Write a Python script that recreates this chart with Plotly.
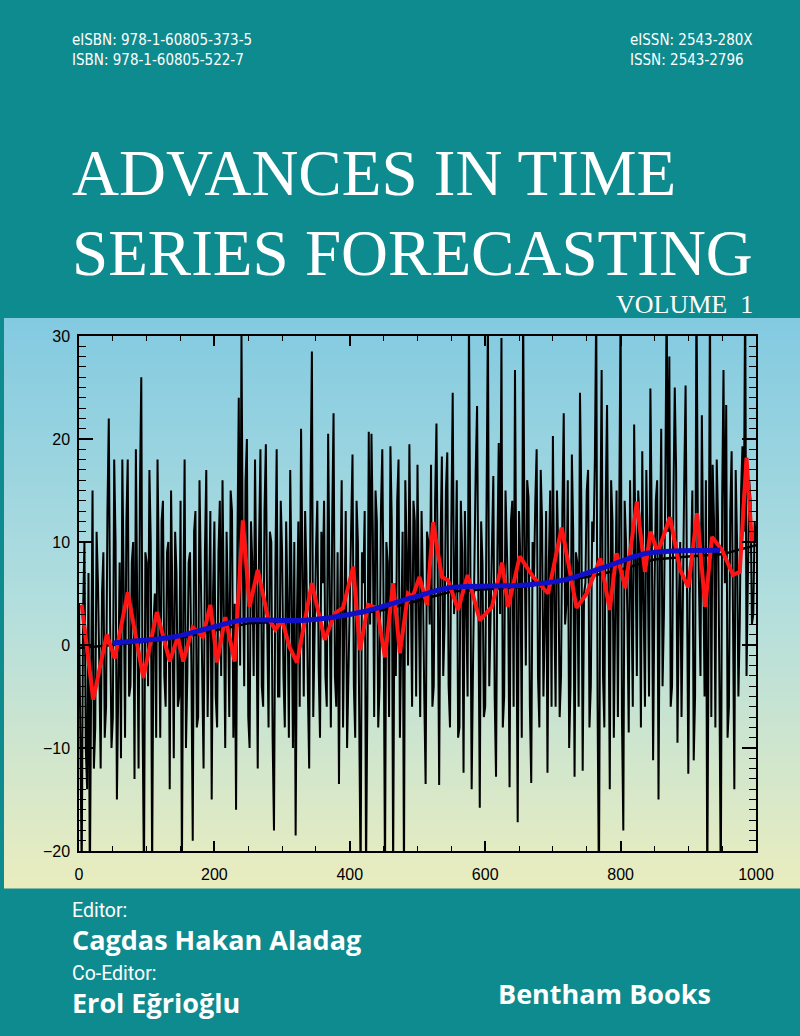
"""Book cover style time series chart: noisy series, moving average and trend."""

import plotly.graph_objects as go

# ---- data (read off the cover) ----
# even samples: x = 0, 4, 8, ..., 1000
even_x = list(range(0, 1001, 4))
even_y = [
    # 0 - 96
    4, -22, 10, -14, -24, 15, -8, 6, -12, 9, -6, 22, -10, 18, -15, 8, 18, -9, 18, -4, 10, 19, -12, 26, -23,
    # 100 - 196
    8, 17, -22, 5, 18, -9, 14, -6, 10, 15, -11, 7, -5, -22, 18, -3, 9, -19, 13, -7, 6, -12, 17, 2, -15,
    # 200 - 296
    12, -8, 14, 16, -10, 4, 15, -9, -16, 24, 30, -4, 20, -10, 8, 18, -12, 19, -6, 19.5, -8, 10, -18, 19, -5,
    # 300 - 396
    9, -8, 4, 17, -10, -18.5, 12, 21, -5, 7, -12, 28.5, 2, 14, -9, 6, -3, 20.5, -8, 22.5, -6, -13.5, 16, 3, -10,
    # 400 - 496
    5, 18.5, -9, 10, -23, 6, -22, 20.7, 20.5, -7, 12, -4, 19, -23, 8, 19.3, -22, -3, 18, 4, -23, 9, 19.5, -6, 12,
    # 500 - 596
    17.5, -7, 6, -13.5, 10, 17.5, -4, 21.5, -13.6, 18.3, 2, 18.7, -8, 24.5, 6, -9, 14, -12.4, 3, 32, -14, 10, 23.2, -15.8, 8,
    # 600 - 696
    -6, 32, 4, 16.4, -12.8, 19.6, 29.8, -5, 10, -13.8, 14, 26.7, -17.2, 8, 33, -2, 14.3, -13.4, 6, 19, -8, 12, 2, -12.4, 15,
    # 700 - 796
    20.3, -6, 9, -3, 22.5, 4, -10, 18.5, -12.8, 8, 24.5, -12.2, 6, 17, -4, 10, 33, -24, 26.7, -8, 23.3, -14, 12, 4, -7,
    # 800 - 896
    33, -18, 10, -8.5, 6, 21.4, -3, 12, 18.8, -6, 9, 24.9, -11.2, 14, -15, 21, 3, 34, 28, -4, 25, -9.5, 10, 2, 25.2,
    # 900 - 1000
    -12.5, 8, -11.2, 35, 4, 22.3, -5, -24, 34, 17.5, -8, 12, -24, 26.7, 23.3, -6, 18.8, -14, 10, 2, 19.3, 35, 8, 14, 3, 10,
]

# odd samples: x = 2, 6, 10, ..., 998
odd_x = list(range(2, 1000, 4))
odd_y = [
    -6, 3, -10, 7, -3, -12, 11, -2, 5, -9, 13, 2, -7, 10, -4, -11, 6, 12, -5, 8, -13, 4, 15, -8, 9,
    -4, 10, 2, -9, 7, 12, -3, 9, -14, 4, 11, -6, 14, 3, -10, 8, -2, 11, -8, 16, -4, 9, -7, 13, 5,
    -5, 9, -3, 2, 11, -7, 13, 4, 10, -2, 8, 16, -7, 12, -3, 5, 10, -4, 13, 2, 11, -9, 7, -5, 14,
    -3, 12, -9, 6, 10, 3, -6, 8, 13, -4, 15, -7, 9, -2, 11, 14, -6, 7, 12, -3, 9, 5, -8, 13, -2,
    12, -4, 14, -8, 9, 13, -5, 2, 11, 15, -8, 13, 3, 10, -7, 12, 6, 14, -9, 11, 16, -2, 7, 14, -5,
    4, 13, -5, 11, 2, -6, 14, 6, 10, -3, 15, -4, 12, 3, 16, -8, 9, 13, -5, 11, -2, 17, 1, 12, -7,
    14, -4, 12, -5, 9, 3, -8, 15, 4, 12, -6, 5, 13, -9, 11, 16, -6, 10, 14, -3, 17, -5, 13, 8, -6,
    4, 15, -7, 13, 2, 16, -4, 11, 9, -6, 14, 5, 15, -8, 12, 18, -6, 10, -3, 14, 6, 16, -9, 15, 11,
    -7, 14, 3, 16, -6, 9, 15, -8, 4, 17, -5, 12, 5, 16, 8, -4, 15, 11, -6, 14, 17, 4, -7, 16, 10,
    5, 15, -5, 13, -3, 9, 16, 2, -7, 12, 18, -4, 14, 6, -9, 13, 3, 17, -5, 15, 11, -3, 16, 2, 12,
]

red_x = [4, 21, 41, 53, 72, 95, 115, 134, 146, 154,
         168, 183, 194, 204, 216, 230, 242, 252, 264, 279,
         290, 300, 311, 322, 344, 363, 378, 390, 405, 415,
         427, 440, 452, 464, 474, 486, 493, 503, 514, 523,
         536, 545, 560, 574, 592, 610, 625, 634, 651, 671,
         693, 713, 735, 750, 770, 784, 794, 807, 824, 836,
         844, 855, 873, 888, 900, 913, 925, 935, 950, 966,
         976, 986, 994]
red_y = [3.9, -5.3, 1.0, -1.3, 5.1, -3.2, 3.2, -1.6, 0.8, -1.6,
         1.7, 0.8, 3.9, -1.7, 2.7, -1.6, 12.1, 3.7, 7.3, 2.7,
         1.5, 2.4, -0.2, -1.7, 6.0, 0.5, 3.1, 3.6, 7.6, -0.5,
         3.9, 3.6, -1.2, 6.0, -0.8, 5.0, 4.7, 6.6, 3.9, 11.9,
         6.6, 6.3, 3.4, 6.8, 2.4, 3.7, 8.0, 3.7, 8.6, 6.6,
         5.0, 11.4, 3.6, 5.0, 8.4, 3.4, 8.9, 5.5, 13.9, 7.1,
         11.0, 9.0, 12.4, 7.3, 5.6, 12.8, 3.7, 10.5, 9.2, 6.8,
         7.1, 18.2, 9.9]

blue_x = [50, 142, 190, 240, 334, 418, 492, 551, 655, 715, 774, 839, 947]
blue_y = [0.2, 0.8, 1.6, 2.4, 2.4, 3.2, 4.6, 5.6, 5.8, 6.3, 7.5, 8.9, 9.2]

trend_x = [0, 50, 150, 250, 350, 450, 550, 650, 750, 800, 850, 900, 950, 1000]
trend_y = [-0.3, 0.0, 0.7, 2.1, 2.4, 3.4, 5.2, 5.6, 6.6, 7.3, 8.3, 8.6, 8.8, 9.7]

# ---- page geometry (pixels on the 800x1036 cover) ----
W, H = 800, 1036
PLOT_L, PLOT_R, PLOT_T, PLOT_B = 79, 756, 336, 851
BAND_T, BAND_B, BAND_L = 318, 888, 4

TEAL = "#0e8b8f"
GRAD_STOPS = [(0.0, (130, 202, 225)), (0.5, (178, 222, 222)), (1.0, (234, 237, 190))]


def to_paper(px, py):
    """Convert cover pixel position to plot paper coordinates."""
    return (px - PLOT_L) / (PLOT_R - PLOT_L), (PLOT_B - py) / (PLOT_B - PLOT_T)


def grad_color(t):
    for (t0, c0), (t1, c1) in zip(GRAD_STOPS[:-1], GRAD_STOPS[1:]):
        if t <= t1:
            f = (t - t0) / (t1 - t0)
            rgb = [round(a + (b - a) * f) for a, b in zip(c0, c1)]
            return "rgb(%d,%d,%d)" % tuple(rgb)
    return "rgb(%d,%d,%d)" % GRAD_STOPS[-1][1]


def background_shapes(n=95):
    shapes = []
    step = (BAND_B - BAND_T) / n
    x0, _ = to_paper(BAND_L, 0)
    x1, _ = to_paper(W + 2, 0)
    for i in range(n):
        _, y0 = to_paper(0, BAND_T + i * step)
        _, y1 = to_paper(0, BAND_T + (i + 1) * step + 0.6)
        shapes.append(dict(type="rect", xref="paper", yref="paper", x0=x0, x1=x1, y0=y0, y1=y1,
                           fillcolor=grad_color((i + 0.5) / n), line=dict(width=0), layer="below"))
    return shapes


def text(px, py, s, size, family, color="white", anchor="left", bold=False):
    x, y = to_paper(px, py)
    if bold:
        s = "<b>%s</b>" % s
    return dict(x=x, y=y, xref="paper", yref="paper", text=s, showarrow=False, align="left",
                xanchor=anchor, yanchor="middle", font=dict(size=size, family=family, color=color))


# merge the two sample sets into one series ordered by x
samples = sorted(zip(even_x + odd_x, even_y + odd_y))
noise_x = [p[0] for p in samples]
noise_y = [p[1] for p in samples]

fig = go.Figure()
fig.add_trace(go.Scatter(x=noise_x, y=noise_y, mode="lines", line=dict(color="black", width=2), name="series"))
fig.add_trace(go.Scatter(x=trend_x, y=trend_y, mode="lines", line=dict(color="black", width=2.5), name="trend"))
fig.add_trace(go.Scatter(x=red_x, y=red_y, mode="lines", line=dict(color="#ff1414", width=4), name="moving average"))
fig.add_trace(go.Scatter(x=blue_x, y=blue_y, mode="lines", line=dict(color="#1010c8", width=5, shape="spline", smoothing=0.8),
                         name="smooth"))

sans = "Roboto"
cond = "DejaVu Sans Condensed"
serif = "Liberation Serif"
bold_sans = "Open Sans"
annotations = [
    text(70, 50, "eISBN: 978-1-60805-373-5<br>ISBN: 978-1-60805-522-7", 15, cond),
    text(628, 50, "eISSN: 2543-280X<br>ISSN: 2543-2796", 15, cond),
    text(70, 173, "ADVANCES IN TIME", 65, serif),
    text(70, 253, "SERIES FORECASTING", 65, serif),
    text(755, 305, "VOLUME&nbsp;&nbsp;1", 26, serif, anchor="right"),
    text(70, 910, "Editor:", 19.5, sans),
    text(70, 939, "Cagdas Hakan Aladag", 27, bold_sans, bold=True),
    text(70, 973, "Co-Editor:", 19.5, sans),
    text(70, 1002, "Erol Eğrioğlu", 27, bold_sans, bold=True),
    text(496, 993, "Bentham Books", 27, bold_sans, bold=True),
]

axis_common = dict(
    ticks="inside", tickcolor="black", tickwidth=1.5, showline=True, linecolor="black", linewidth=1.5,
    mirror="ticks", showgrid=False, zeroline=False,
    tickfont=dict(family="Liberation Sans", size=16, color="black"),
)

fig.update_layout(
    width=W, height=H,
    margin=dict(l=PLOT_L, r=W - PLOT_R, t=PLOT_T, b=H - PLOT_B),
    paper_bgcolor=TEAL, plot_bgcolor="rgba(0,0,0,0)",
    showlegend=False,
    shapes=background_shapes(),
    annotations=annotations,
    xaxis=dict(range=[0, 1000], tick0=0, dtick=200, ticklen=10, ticklabelstandoff=8,
               minor=dict(dtick=50, ticks="inside", ticklen=5, tickwidth=1.2, tickcolor="black", showgrid=False),
               **axis_common),
    yaxis=dict(range=[-20, 30], tick0=0, dtick=10, ticklen=14, ticklabelstandoff=4,
               minor=dict(dtick=1, ticks="inside", ticklen=7, tickwidth=1.2, tickcolor="black", showgrid=False),
               **axis_common),
)

# drop the default body margin so the cover sits at the window's top-left corner
fig.write_html("out.html", config={"displayModeBar": False},
               post_script="document.body.style.margin='0';")
